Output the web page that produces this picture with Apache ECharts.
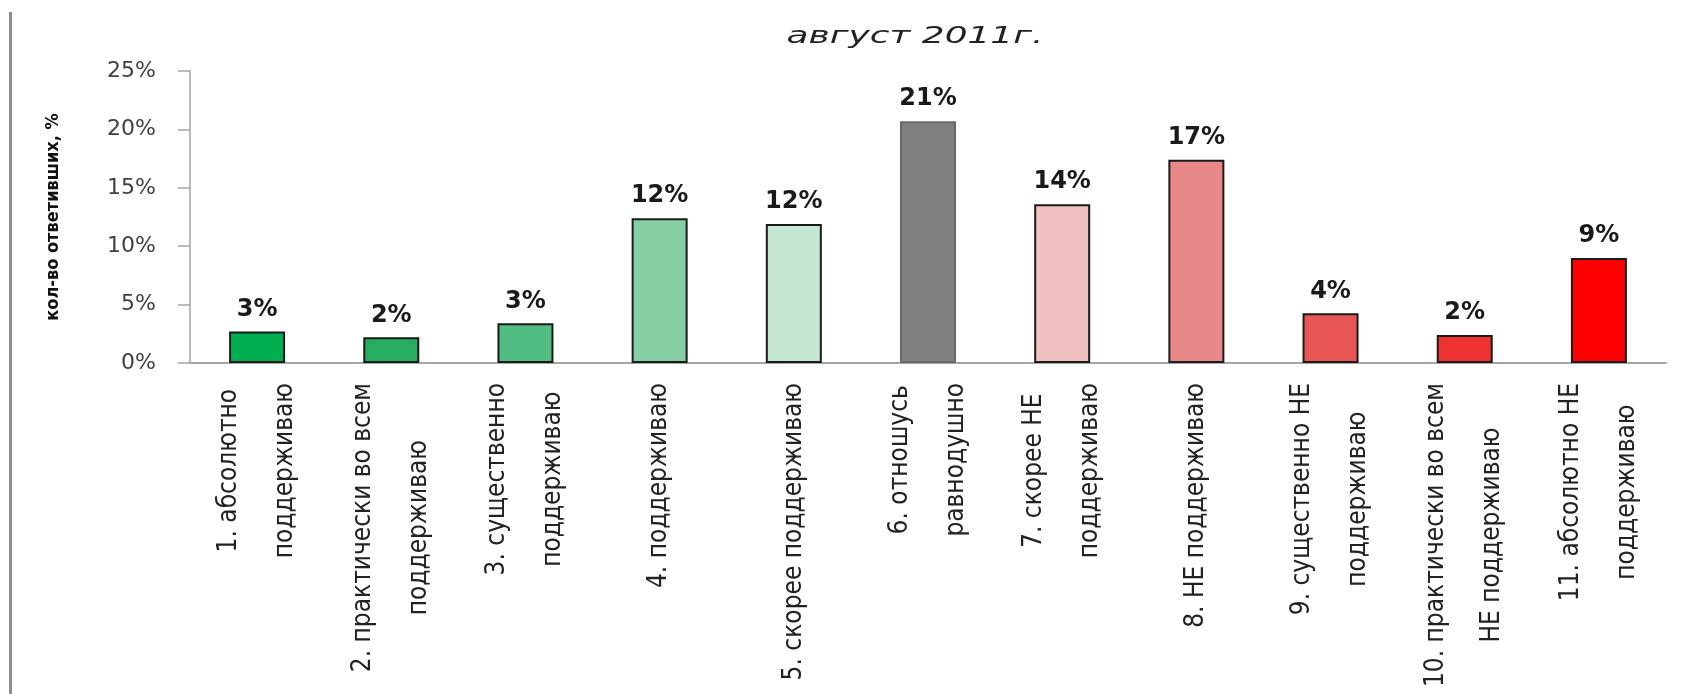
<!DOCTYPE html>
<html>
<head>
<meta charset="utf-8">
<script src="https://cdn.jsdelivr.net/npm/echarts@6/dist/echarts.min.js"></script>
<style>
html,body{margin:0;padding:0;background:#fff;}
#chart{width:1694px;height:694px;}
</style>
</head>
<body>
<div id="chart"></div>
<script>
const titleText = 'август 2011г.';
const yAxisName = 'кол-во ответивших, %';
const categories = [
  '1. абсолютно\nподдерживаю',
  '2. практически во всем\nподдерживаю',
  '3. существенно\nподдерживаю',
  '4. поддерживаю',
  '5. скорее поддерживаю',
  '6. отношусь\nравнодушно',
  '7. скорее НЕ\nподдерживаю',
  '8. НЕ поддерживаю',
  '9. существенно НЕ\nподдерживаю',
  '10. практически во всем\nНЕ поддерживаю',
  '11. абсолютно НЕ\nподдерживаю'
];
const values = [2.7, 2.2, 3.4, 12.4, 11.9, 20.7, 13.6, 17.4, 4.25, 2.4, 9.0];
const valueLabels = ['3%', '2%', '3%', '12%', '12%', '21%', '14%', '17%', '4%', '2%', '9%'];
const yTicks = [0, 5, 10, 15, 20, 25];
const barColors = ['#00b050', '#27ae63', '#52bd82', '#86cfa5', '#c5e7d3', '#808080',
                   '#f1c1c1', '#e88787', '#e85656', '#ee3131', '#ff0000'];
const barBorders = ['#1b1b1b', '#1b1b1b', '#1b1b1b', '#1b1b1b', '#1b1b1b', '#6a6a6a',
                    '#1b1b1b', '#1b1b1b', '#1b1b1b', '#1b1b1b', '#1b1b1b'];

const chart = echarts.init(document.getElementById('chart'));
const labelFont = "'DejaVu Sans Condensed', 'Liberation Sans Narrow', sans-serif";
const wideFont = "'DejaVu Sans', Verdana, sans-serif";

chart.setOption({
  backgroundColor: '#ffffff',
  animation: false,
  graphic: [{
    type: 'rect',
    shape: { x: 9, y: 12, width: 3, height: 682 },
    style: { fill: '#8c8c8c' },
    silent: true
  }, {
    type: 'text',
    x: 915,
    y: 37,
    scaleX: 1.56,
    silent: true,
    style: {
      text: titleText,
      fontFamily: wideFont,
      fontStyle: 'italic',
      fontSize: 23,
      fill: '#222',
      align: 'center',
      verticalAlign: 'middle'
    }
  }],
  grid: {
    left: 190, right: 28, top: 71, bottom: 331,
    containLabel: false,
    outerBoundsMode: 'none'
  },
  xAxis: {
    type: 'category',
    data: categories,
    axisLine: { show: true, lineStyle: { color: '#a6a6a6', width: 2 } },
    axisTick: { show: false },
    splitLine: { show: false },
    axisLabel: {
      interval: 0,
      rotate: 90,
      margin: 20,
      hideOverlap: false,
      formatter: function (v) {
        return v.split('\n').map(function (s) { return '{c|' + s + '}'; }).join('\n');
      },
      rich: {
        c: {
          align: 'center',
          fontFamily: labelFont,
          fontSize: 26,
          lineHeight: 56,
          color: '#222'
        }
      }
    }
  },
  yAxis: {
    type: 'value',
    min: yTicks[0],
    max: yTicks[yTicks.length - 1],
    interval: yTicks[1] - yTicks[0],
    name: yAxisName,
    nameLocation: 'middle',
    nameRotate: 90,
    nameGap: 128,
    nameTextStyle: {
      fontFamily: labelFont,
      fontWeight: 'bold',
      fontSize: 18,
      color: '#111'
    },
    axisLine: { show: true, lineStyle: { color: '#a6a6a6', width: 1.5 } },
    axisTick: { show: true, length: 12, lineStyle: { color: '#a6a6a6', width: 1.5 } },
    splitLine: { show: false },
    axisLabel: {
      margin: 34,
      formatter: '{value}%',
      fontFamily: wideFont,
      fontSize: 22,
      color: '#404040'
    }
  },
  series: [{
    type: 'bar',
    barWidth: 56,
    data: values.map(function (v, i) {
      return {
        value: v,
        itemStyle: { color: barColors[i], borderColor: barBorders[i], borderWidth: 2 }
      };
    }),
    label: {
      show: true,
      position: 'top',
      distance: 10,
      formatter: function (p) { return valueLabels[p.dataIndex]; },
      fontFamily: wideFont,
      fontWeight: 'bold',
      fontSize: 24,
      color: '#1a1a1a'
    }
  }]
});
</script>
</body>
</html>
